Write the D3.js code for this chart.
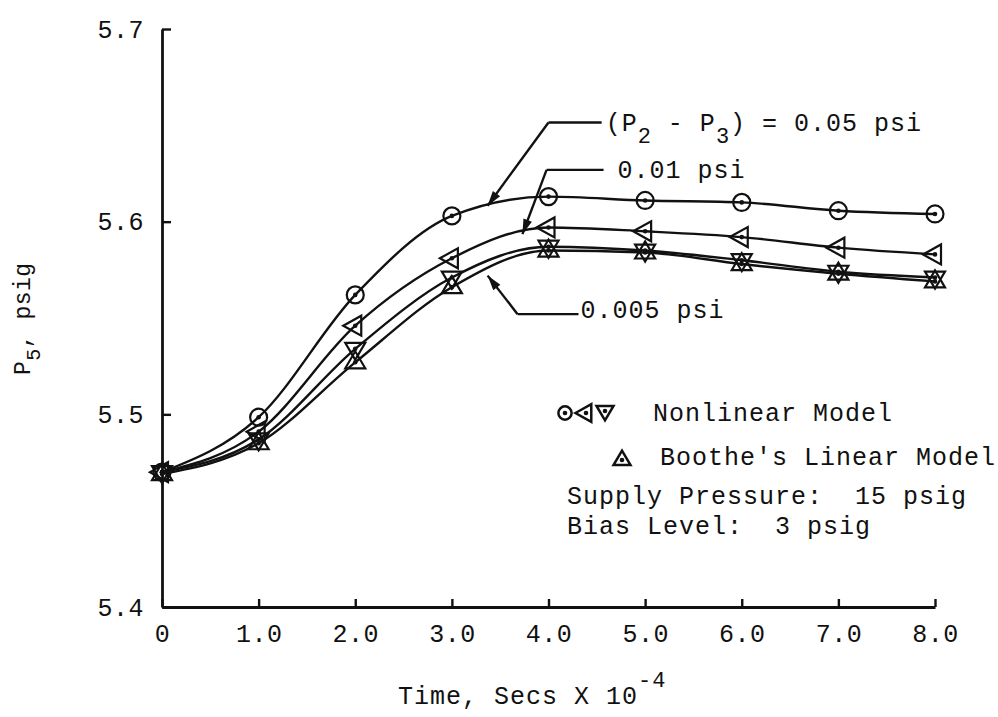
<!DOCTYPE html>
<html>
<head>
<meta charset="utf-8">
<script src="https://cdn.jsdelivr.net/npm/d3@7/dist/d3.min.js"></script>
<style>
  html, body { margin: 0; padding: 0; background: #fff; }
  svg { display: block; }
  text { font-family: "Liberation Mono", "DejaVu Sans Mono", monospace; fill: #111; white-space: pre; }
</style>
</head>
<body>
<svg id="chart" width="998" height="717"></svg>
<script>
// ---- data ----
const times = [0, 1, 2, 3, 4, 5, 6, 7, 8];
const nonlinear005 = [5.470, 5.4985, 5.562, 5.603, 5.613, 5.611, 5.610, 5.6057, 5.604];   // circles
const nonlinear001 = [5.470, 5.491, 5.546, 5.581, 5.597, 5.595, 5.592, 5.5865, 5.583];    // left triangles
const nonlinear0005 = [5.470, 5.487, 5.534, 5.571, 5.587, 5.585, 5.580, 5.574, 5.571];   // down triangles
const linear0005 = [5.469, 5.485, 5.527, 5.566, 5.585, 5.584, 5.578, 5.573, 5.569];      // up triangles (Boothe)
const xTicks = [0, 1, 2, 3, 4, 5, 6, 7, 8];
const xTickLabels = ["0", "1.0", "2.0", "3.0", "4.0", "5.0", "6.0", "7.0", "8.0"];
const yTicks = [5.4, 5.5, 5.6, 5.7];
const yTickLabels = ["5.4", "5.5", "5.6", "5.7"];

const svg = d3.select("#chart");
svg.append("rect").attr("width", 998).attr("height", 717).attr("fill", "#fff");

const x = d3.scaleLinear().domain([0, 8]).range([162, 935]);
const y = d3.scaleLinear().domain([5.4, 5.7]).range([607, 29]);

const FS = 25;

// ---- axes ----
const xAxis = d3.axisBottom(x).tickValues(xTicks)
  .tickFormat((d, i) => xTickLabels[i]).tickSizeInner(-8).tickSizeOuter(0).tickPadding(17);
const yAxis = d3.axisLeft(y).tickValues(yTicks)
  .tickFormat((d, i) => yTickLabels[i]).tickSizeInner(-9).tickSizeOuter(0).tickPadding(18);

const gx = svg.append("g").attr("transform", `translate(0,${y(5.4)})`).call(xAxis);
const gy = svg.append("g").attr("transform", `translate(${x(0)},0)`).call(yAxis);
[gx, gy].forEach(g => {
  g.select(".domain").attr("stroke", "#111").attr("stroke-width", 2.8);
  g.selectAll(".tick line").attr("stroke", "#111").attr("stroke-width", 2.4);
  g.selectAll(".tick text").attr("font-family", "Liberation Mono").attr("font-size", FS)
    .attr("letter-spacing", 0.5).attr("fill", "#111");
});

// ---- curves ----
const series = [
  { values: nonlinear005, marker: "circle" },
  { values: nonlinear001, marker: "left" },
  { values: nonlinear0005, marker: "down" },
  { values: linear0005, marker: "up" }
];
const line = d3.line().x(d => x(d[0])).y(d => y(d[1])).curve(d3.curveMonotoneX);
series.forEach(s => {
  svg.append("path").datum(times.map((t, i) => [t, s.values[i]]))
    .attr("d", line).attr("fill", "none").attr("stroke", "#111").attr("stroke-width", 2.4);
});

// ---- markers ----
function markerPath(type, k) {
  const p = d3.path();
  if (type === "circle") {
    p.arc(0, 0, 8.5 * k, 0, 2 * Math.PI);
  } else if (type === "left") {
    p.moveTo(-12 * k, 0); p.lineTo(6 * k, -10 * k); p.lineTo(6 * k, 10 * k); p.closePath();
  } else if (type === "down") {
    p.moveTo(-10 * k, -6 * k); p.lineTo(10 * k, -6 * k); p.lineTo(0, 11 * k); p.closePath();
  } else if (type === "up") {
    p.moveTo(-10 * k, 6 * k); p.lineTo(10 * k, 6 * k); p.lineTo(0, -11 * k); p.closePath();
  }
  return p.toString();
}
function drawMarker(g, type, cx, cy, k, sw) {
  g.append("path").attr("d", markerPath(type, k)).attr("transform", `translate(${cx},${cy})`)
    .attr("fill", "none").attr("stroke", "#111").attr("stroke-width", sw || 2.2);
  g.append("circle").attr("cx", cx).attr("cy", cy).attr("r", 2.3).attr("fill", "#111");
}
const gm = svg.append("g");
series.forEach(s => {
  times.forEach((t, i) => drawMarker(gm, s.marker, x(t), y(s.values[i]), 1));
});

// ---- annotations (arrow tip, elbow and label anchor in data units) ----
const annotations = [
  { tip: [3.37, 5.6083], elbow: [4.0, 5.6515], end: [4.55, 5.6515], label: "0.05" },
  { tip: [3.73, 5.5935], elbow: [3.98, 5.6269], end: [4.57, 5.6269], label: "0.01" },
  { tip: [3.37, 5.5720], elbow: [3.68, 5.5520], end: [4.31, 5.5520], label: "0.005" }
];
function arrow(g, from, to) {
  const [x1, y1] = from, [x2, y2] = to;
  g.append("line").attr("x1", x1).attr("y1", y1).attr("x2", x2).attr("y2", y2)
    .attr("stroke", "#111").attr("stroke-width", 2.4);
  const ang = Math.atan2(y2 - y1, x2 - x1);
  const L = 15, W = 4.5;
  const bx = x2 - L * Math.cos(ang), by = y2 - L * Math.sin(ang);
  const px = -Math.sin(ang) * W, py = Math.cos(ang) * W;
  g.append("path").attr("d", `M${x2},${y2}L${bx + px},${by + py}L${bx - px},${by - py}Z`).attr("fill", "#111");
}
const ga = svg.append("g");
annotations.forEach(a => {
  const e = [x(a.end[0]), y(a.end[1])], b = [x(a.elbow[0]), y(a.elbow[1])], t = [x(a.tip[0]), y(a.tip[1])];
  ga.append("line").attr("x1", e[0]).attr("y1", e[1]).attr("x2", b[0]).attr("y2", b[1])
    .attr("stroke", "#111").attr("stroke-width", 2.4);
  arrow(ga, b, t);
});

const T = (xp, yp, str) => svg.append("text").attr("x", xp).attr("y", yp)
  .attr("font-size", FS).attr("letter-spacing", 1).attr("dominant-baseline", "central").text(str);

// label 0.05
{
  const a = annotations[0];
  const t = svg.append("text").attr("x", x(a.end[0]) + 4).attr("y", y(a.end[1]) + 2)
    .attr("font-size", FS).attr("letter-spacing", 1).attr("dominant-baseline", "central");
  t.append("tspan").text("(P");
  t.append("tspan").attr("dy", 13).attr("font-size", 22).text("2");
  t.append("tspan").attr("dy", -13).text(" - P");
  t.append("tspan").attr("dy", 13).attr("font-size", 22).text("3");
  t.append("tspan").attr("dy", -13).text(") = 0.05 psi");
}
T(x(annotations[1].end[0]) + 14, y(annotations[1].end[1]) + 2, "0.01 psi");
T(x(annotations[2].end[0]) + 2, y(annotations[2].end[1]) - 3, "0.005 psi");

// ---- legend ----
const gl = svg.append("g");
drawMarker(gl, "circle", 565, 413, 0.78, 2.5);
drawMarker(gl, "left", 586, 413, 0.88, 2.5);
drawMarker(gl, "down", 605, 411, 0.85, 2.5);
T(653, 414, "Nonlinear Model");
drawMarker(gl, "up", 622, 460, 0.85, 2.5);
T(660, 458, "Boothe's Linear Model");
T(567, 497, "Supply Pressure:  15 psig");
T(567, 527, "Bias Level:  3 psig");

// ---- axis titles ----
{
  const t = svg.append("text").attr("x", 398).attr("y", 697).attr("font-size", FS)
    .attr("letter-spacing", 1).attr("dominant-baseline", "central");
  t.append("tspan").text("Time, Secs X 10");
  t.append("tspan").attr("dy", -16).attr("font-size", 22).text("-4");
}
{
  const t = svg.append("text").attr("transform", "translate(30,375) rotate(-90)")
    .attr("font-size", 23).attr("letter-spacing", 0.5);
  t.append("tspan").text("P");
  t.append("tspan").attr("dy", 10).attr("font-size", 20).text("5");
  t.append("tspan").attr("dy", -10).text(", psig");
}
</script>
</body>
</html>
